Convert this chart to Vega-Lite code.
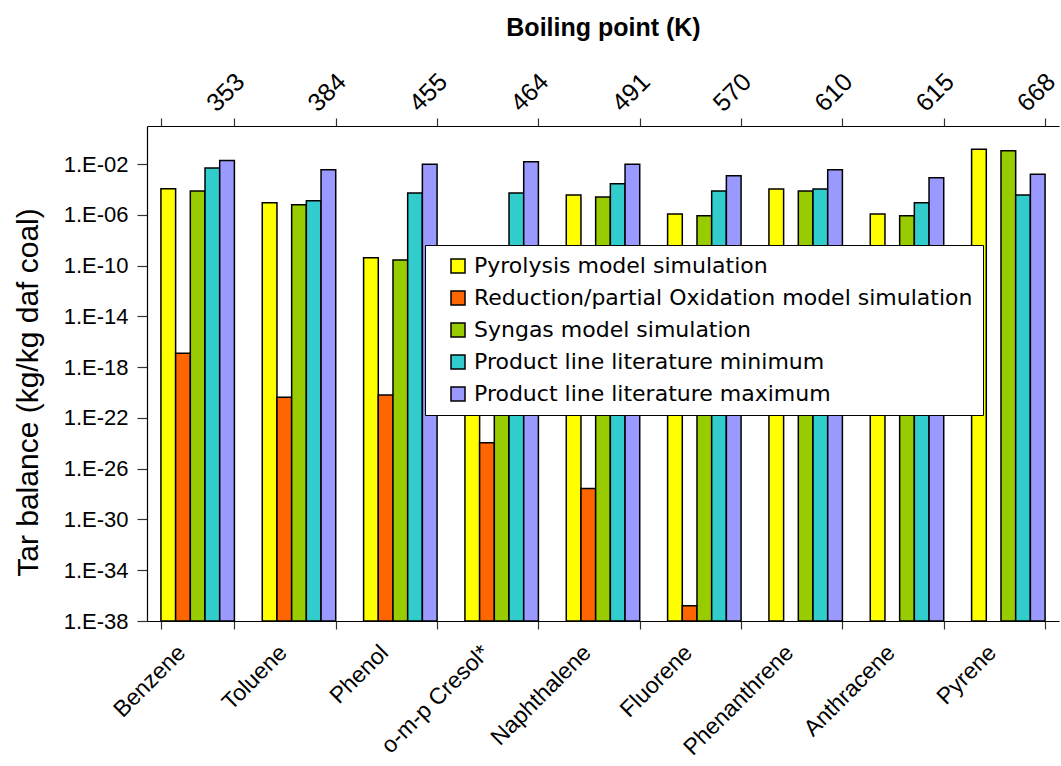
{
  "$schema": "https://vega.github.io/schema/vega-lite/v6.json",
  "autosize": {"type": "none"},
  "padding": {"left": 147, "top": 126, "right": 2, "bottom": 145},
  "width": 912,
  "height": 495,
  "background": "white",
  "config": {
    "view": {"stroke": null},
    "axis": {"grid": false, "domainColor": "black", "tickColor": "#333", "labelColor": "black", "titleColor": "black", "domainWidth": 1.2, "tickWidth": 1.2}
  },
  "layer": [
    {
      "data": {"values": [
        {"compound": "Benzene", "series": "Pyrolysis model simulation", "value": 1.15e-4},
        {"compound": "Benzene", "series": "Reduction/partial Oxidation model simulation", "value": 1.26e-17},
        {"compound": "Benzene", "series": "Syngas model simulation", "value": 7.4e-5},
        {"compound": "Benzene", "series": "Product line literature minimum", "value": 4.9e-3},
        {"compound": "Benzene", "series": "Product line literature maximum", "value": 1.95e-2},
        {"compound": "Toluene", "series": "Pyrolysis model simulation", "value": 8.9e-6},
        {"compound": "Toluene", "series": "Reduction/partial Oxidation model simulation", "value": 4.3e-21},
        {"compound": "Toluene", "series": "Syngas model simulation", "value": 6.3e-6},
        {"compound": "Toluene", "series": "Product line literature minimum", "value": 1.29e-5},
        {"compound": "Toluene", "series": "Product line literature maximum", "value": 3.5e-3},
        {"compound": "Phenol", "series": "Pyrolysis model simulation", "value": 4.2e-10},
        {"compound": "Phenol", "series": "Reduction/partial Oxidation model simulation", "value": 6.5e-21},
        {"compound": "Phenol", "series": "Syngas model simulation", "value": 2.75e-10},
        {"compound": "Phenol", "series": "Product line literature minimum", "value": 5.2e-5},
        {"compound": "Phenol", "series": "Product line literature maximum", "value": 9.5e-3},
        {"compound": "o-m-p Cresol*", "series": "Pyrolysis model simulation", "value": 1e-10},
        {"compound": "o-m-p Cresol*", "series": "Reduction/partial Oxidation model simulation", "value": 1.1e-24},
        {"compound": "o-m-p Cresol*", "series": "Syngas model simulation", "value": 7e-11},
        {"compound": "o-m-p Cresol*", "series": "Product line literature minimum", "value": 5.2e-5},
        {"compound": "o-m-p Cresol*", "series": "Product line literature maximum", "value": 1.5e-2},
        {"compound": "Naphthalene", "series": "Pyrolysis model simulation", "value": 3.6e-5},
        {"compound": "Naphthalene", "series": "Reduction/partial Oxidation model simulation", "value": 2.7e-28},
        {"compound": "Naphthalene", "series": "Syngas model simulation", "value": 2.5e-5},
        {"compound": "Naphthalene", "series": "Product line literature minimum", "value": 2.8e-4},
        {"compound": "Naphthalene", "series": "Product line literature maximum", "value": 9.5e-3},
        {"compound": "Fluorene", "series": "Pyrolysis model simulation", "value": 1.15e-6},
        {"compound": "Fluorene", "series": "Reduction/partial Oxidation model simulation", "value": 1.6e-37},
        {"compound": "Fluorene", "series": "Syngas model simulation", "value": 8.5e-7},
        {"compound": "Fluorene", "series": "Product line literature minimum", "value": 7.4e-5},
        {"compound": "Fluorene", "series": "Product line literature maximum", "value": 1.2e-3},
        {"compound": "Phenanthrene", "series": "Pyrolysis model simulation", "value": 1.07e-4},
        {"compound": "Phenanthrene", "series": "Syngas model simulation", "value": 7.4e-5},
        {"compound": "Phenanthrene", "series": "Product line literature minimum", "value": 1.07e-4},
        {"compound": "Phenanthrene", "series": "Product line literature maximum", "value": 3.5e-3},
        {"compound": "Anthracene", "series": "Pyrolysis model simulation", "value": 1.15e-6},
        {"compound": "Anthracene", "series": "Syngas model simulation", "value": 8.5e-7},
        {"compound": "Anthracene", "series": "Product line literature minimum", "value": 8.9e-6},
        {"compound": "Anthracene", "series": "Product line literature maximum", "value": 8.3e-4},
        {"compound": "Pyrene", "series": "Pyrolysis model simulation", "value": 0.145},
        {"compound": "Pyrene", "series": "Syngas model simulation", "value": 0.112},
        {"compound": "Pyrene", "series": "Product line literature minimum", "value": 3.6e-5},
        {"compound": "Pyrene", "series": "Product line literature maximum", "value": 1.6e-3}
      ]},
      "mark": {"type": "bar", "stroke": "black", "strokeWidth": 1.5},
      "encoding": {
        "x": {
          "field": "compound", "type": "nominal",
          "sort": ["Benzene", "Toluene", "Phenol", "o-m-p Cresol*", "Naphthalene", "Fluorene", "Phenanthrene", "Anthracene", "Pyrene"],
          "scale": {"paddingInner": 0.275, "paddingOuter": 0.1375},
          "axis": {"orient": "bottom", "title": null, "labelAngle": -45, "labelAlign": "right", "labelBaseline": "top", "tickBand": "extent", "tickSize": 8, "labelPadding": 12, "labelOffset": -24, "labelFont": "Liberation Sans", "labelFontSize": 23, "labelLimit": 300}
        },
        "xOffset": {
          "field": "series", "type": "nominal",
          "sort": ["Pyrolysis model simulation", "Reduction/partial Oxidation model simulation", "Syngas model simulation", "Product line literature minimum", "Product line literature maximum"],
          "scale": {"paddingInner": 0, "paddingOuter": 0}
        },
        "y": {
          "field": "value", "type": "quantitative",
          "scale": {"type": "log", "domain": [1e-38, 10], "nice": false},
          "axis": {
            "title": "Tar balance (kg/kg daf coal)",
            "values": [1e-38, 1e-34, 1e-30, 1e-26, 1e-22, 1e-18, 1e-14, 1e-10, 1e-6, 1e-2],
            "labelExpr": "'1.E-' + (abs(round(log(datum.value)/LN10)) < 10 ? '0' : '') + abs(round(log(datum.value)/LN10))",
            "tickSize": 10, "labelPadding": 9,
            "labelFont": "Liberation Sans", "labelFontSize": 22,
            "titleFont": "Liberation Sans", "titleFontSize": 30, "titleFontWeight": "normal",
            "titleX": -119, "titleY": 266, "titleBaseline": "middle", "titleAlign": "center"
          }
        },
        "y2": {"datum": 1e-38},
        "color": {
          "field": "series", "type": "nominal",
          "sort": ["Pyrolysis model simulation", "Reduction/partial Oxidation model simulation", "Syngas model simulation", "Product line literature minimum", "Product line literature maximum"],
          "scale": {
            "domain": ["Pyrolysis model simulation", "Reduction/partial Oxidation model simulation", "Syngas model simulation", "Product line literature minimum", "Product line literature maximum"],
            "range": ["#FFFF00", "#FF6600", "#99CC00", "#33CCCC", "#9999FF"]
          },
          "legend": {
            "title": null, "orient": "none", "legendX": 278, "legendY": 119,
            "fillColor": "white", "strokeColor": "black", "padding": 10,
            "symbolType": "square", "symbolSize": 196, "symbolStrokeColor": "black", "symbolStrokeWidth": 1.5, "symbolOpacity": 1,
            "symbolOffset": 12, "labelFont": "DejaVu Sans", "labelFontSize": 22, "labelColor": "black", "labelLimit": 700, "labelOffset": 5,
            "rowPadding": 10
          }
        }
      }
    },
    {
      "data": {"values": [
        {"bp": "353"}, {"bp": "384"}, {"bp": "455"}, {"bp": "464"}, {"bp": "491"},
        {"bp": "570"}, {"bp": "610"}, {"bp": "615"}, {"bp": "668"}
      ]},
      "mark": {"type": "rule", "opacity": 0},
      "encoding": {
        "x": {
          "field": "bp", "type": "ordinal", "sort": null,
          "scale": {"paddingInner": 0.275, "paddingOuter": 0.1375},
          "axis": {"orient": "top", "title": "Boiling point (K)", "labelAngle": -45, "labelAlign": "left", "labelBaseline": "bottom", "tickBand": "extent", "tickSize": 8, "labelPadding": 2, "labelOffset": 22,
            "labelFont": "Liberation Sans", "labelFontSize": 25,
            "titleFont": "Liberation Sans", "titleFontSize": 25, "titleFontWeight": "bold", "titleY": -99, "titleBaseline": "middle"}
        }
      }
    }
  ],
  "resolve": {"scale": {"x": "independent"}, "axis": {"x": "independent"}}
}
